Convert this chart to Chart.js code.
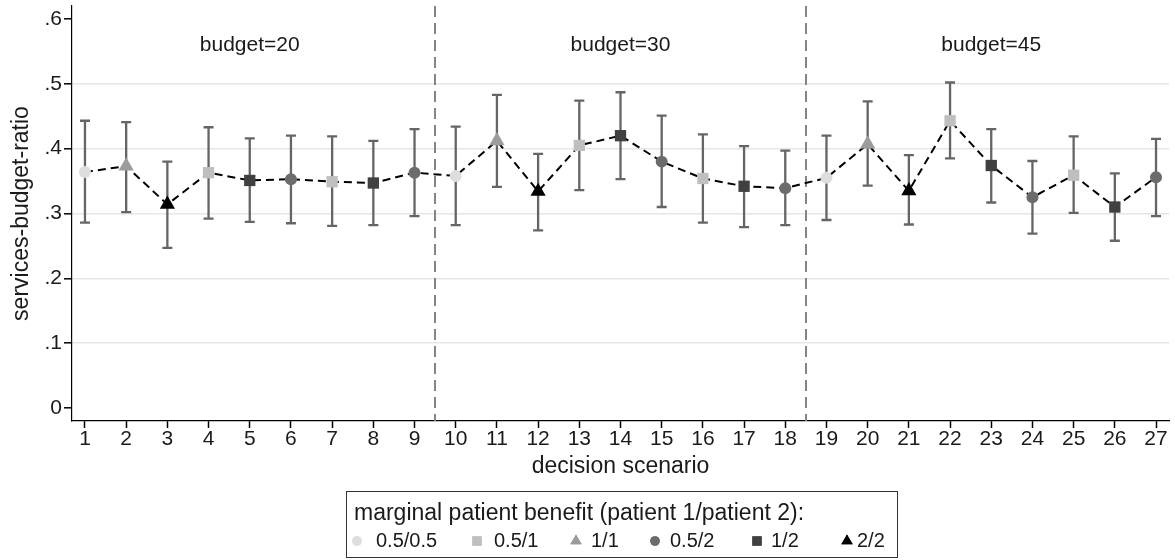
<!DOCTYPE html>
<html>
<head>
<meta charset="utf-8">
<script src="https://cdn.jsdelivr.net/npm/chart.js@4/dist/chart.umd.min.js"></script>
<style>
  html, body { margin: 0; padding: 0; background: #ffffff; }
  #wrap { width: 1175px; height: 560px; }
</style>
</head>
<body>
<div id="wrap"><canvas id="c" width="1175" height="560"></canvas></div>
<script>
// ---- data ----
const scenarios = [1,2,3,4,5,6,7,8,9,10,11,12,13,14,15,16,17,18,19,20,21,22,23,24,25,26,27];

// marginal patient benefit (patient 1/patient 2) of each decision scenario
const benefit = [
  '0.5/0.5','1/1','2/2','0.5/1','1/2','0.5/2','0.5/1','1/2','0.5/2',
  '0.5/0.5','1/1','2/2','0.5/1','1/2','0.5/2','0.5/1','1/2','0.5/2',
  '0.5/0.5','1/1','2/2','0.5/1','1/2','0.5/2','0.5/1','1/2','0.5/2'
];

// mean services-budget-ratio and its confidence interval
const ratioMean = [
  0.364, 0.373, 0.314, 0.363, 0.351, 0.353, 0.349, 0.347, 0.363,
  0.358, 0.412, 0.334, 0.405, 0.420, 0.380, 0.354, 0.342, 0.339,
  0.355, 0.407, 0.335, 0.443, 0.374, 0.325, 0.359, 0.310, 0.356
];
const ratioUpper = [
  0.443, 0.441, 0.380, 0.433, 0.416, 0.420, 0.419, 0.412, 0.430,
  0.434, 0.483, 0.392, 0.474, 0.487, 0.451, 0.422, 0.404, 0.397,
  0.420, 0.473, 0.390, 0.502, 0.430, 0.381, 0.419, 0.362, 0.415
];
const ratioLower = [
  0.286, 0.302, 0.247, 0.292, 0.287, 0.285, 0.281, 0.282, 0.296,
  0.282, 0.341, 0.274, 0.336, 0.353, 0.310, 0.286, 0.279, 0.282,
  0.290, 0.343, 0.283, 0.385, 0.317, 0.269, 0.301, 0.258, 0.296
];

// budget blocks: label, centre scenario, and the boundaries between blocks
const budgetLabels = ['budget=20', 'budget=30', 'budget=45'];
const budgetCentres = [5, 14, 23];
const blockBounds = [9.5, 18.5];

// legend categories
const benefitLevels = ['0.5/0.5', '0.5/1', '1/1', '0.5/2', '1/2', '2/2'];

// axis ticks
const yTickValues = [0, 0.1, 0.2, 0.3, 0.4, 0.5, 0.6];
const yTickLabels = ['0', '.1', '.2', '.3', '.4', '.5', '.6'];

// ---- styling ----
const FONT = "'Liberation Sans', Arial, Helvetica, sans-serif";
const TEXT = '#1a1a1a';
const styleOf = {
  '0.5/0.5': { shape: 'circle',   color: '#dedede', r: 6,   lr: 4.8 },
  '0.5/1':   { shape: 'rect',     color: '#bfbfbf', r: 8,   lr: 6.6 },
  '1/1':     { shape: 'triangle', color: '#9c9c9c', r: 8.8, lr: 6.6 },
  '0.5/2':   { shape: 'circle',   color: '#6c6c6c', r: 6,   lr: 4.8 },
  '1/2':     { shape: 'rect',     color: '#404040', r: 8,   lr: 6.6 },
  '2/2':     { shape: 'triangle', color: '#000000', r: 8.8, lr: 6.6 }
};

Chart.defaults.font.family = FONT;
Chart.defaults.color = TEXT;

// confidence intervals with caps, behind the markers
const errorBarPlugin = {
  id: 'errorBars',
  beforeDatasetsDraw(chart) {
    const { ctx, scales: { x, y } } = chart;
    ctx.save();
    ctx.strokeStyle = '#656565';
    ctx.lineWidth = 2.3;
    const cap = 5;
    scenarios.forEach((s, i) => {
      const px = x.getPixelForValue(s);
      const hi = y.getPixelForValue(ratioUpper[i]);
      const lo = y.getPixelForValue(ratioLower[i]);
      ctx.beginPath();
      ctx.moveTo(px, hi); ctx.lineTo(px, lo);
      ctx.moveTo(px - cap, hi); ctx.lineTo(px + cap, hi);
      ctx.moveTo(px - cap, lo); ctx.lineTo(px + cap, lo);
      ctx.stroke();
    });
    ctx.restore();
  }
};

// dashed separators between budget blocks and the block headings
const blockPlugin = {
  id: 'budgetBlocks',
  beforeDatasetsDraw(chart) {
    const { ctx, chartArea, scales: { x, y } } = chart;
    ctx.save();
    ctx.strokeStyle = '#858585';
    ctx.lineWidth = 2;
    ctx.setLineDash([11, 6]);
    blockBounds.forEach(b => {
      const px = Math.round(x.getPixelForValue(b));
      ctx.beginPath();
      ctx.moveTo(px, chartArea.top);
      ctx.lineTo(px, chartArea.bottom);
      ctx.stroke();
    });
    ctx.setLineDash([]);
    ctx.fillStyle = TEXT;
    ctx.font = '21px ' + FONT;
    ctx.textAlign = 'center';
    ctx.textBaseline = 'middle';
    budgetLabels.forEach((t, i) => {
      ctx.fillText(t, x.getPixelForValue(budgetCentres[i]), y.getPixelForValue(0.56));
    });
    ctx.restore();
  }
};

// boxed legend below the plot
const legendPlugin = {
  id: 'benefitLegend',
  afterDraw(chart) {
    const { ctx } = chart;
    ctx.save();
    ctx.strokeStyle = '#333333';
    ctx.lineWidth = 1;
    ctx.strokeRect(346.5, 491.5, 551, 66);
    ctx.fillStyle = TEXT;
    ctx.font = '23px ' + FONT;
    ctx.textAlign = 'left';
    ctx.textBaseline = 'middle';
    ctx.fillText('marginal patient benefit (patient 1/patient 2):', 354, 514);
    ctx.font = '20px ' + FONT;
    const markerX = [357, 477, 576, 655, 757, 847];
    const textX = [376, 494, 591, 670, 771, 857];
    benefitLevels.forEach((lvl, i) => {
      const st = styleOf[lvl];
      ctx.fillStyle = st.color;
      Chart.helpers.drawPoint(ctx, { pointStyle: st.shape, radius: st.lr, borderWidth: 0 }, markerX[i], 541);
      ctx.fill();
      ctx.fillStyle = TEXT;
      ctx.fillText(lvl, textX[i], 541);
    });
    ctx.restore();
  }
};

const points = scenarios.map((s, i) => ({ x: s, y: ratioMean[i] }));

new Chart(document.getElementById('c'), {
  type: 'line',
  data: {
    datasets: [{
      data: points,
      borderColor: '#000000',
      borderWidth: 2,
      borderDash: [8, 5],
      tension: 0,
      fill: false,
      pointStyle: benefit.map(b => styleOf[b].shape),
      pointRadius: benefit.map(b => styleOf[b].r),
      pointBackgroundColor: benefit.map(b => styleOf[b].color),
      pointBorderColor: benefit.map(b => styleOf[b].color),
      pointBorderWidth: 0
    }]
  },
  options: {
    responsive: false,
    animation: false,
    devicePixelRatio: 1,
    layout: { padding: { top: 5, right: 3, left: 0, bottom: 79 } },
    plugins: { legend: { display: false }, tooltip: { enabled: false } },
    scales: {
      x: {
        type: 'linear',
        min: 0.685,
        max: 27.315,
        afterBuildTicks(scale) { scale.ticks = scenarios.map(v => ({ value: v })); },
        afterFit(scale) { scale.height = 60; scale.paddingLeft = 0; scale.paddingRight = 0; },
        ticks: { font: { size: 21 }, color: TEXT, padding: -1, maxRotation: 0, autoSkip: false,
                 callback: v => String(v) },
        grid: { drawOnChartArea: false, drawTicks: true, tickLength: 7, tickColor: '#000', tickWidth: 1.5 },
        border: { display: true, color: '#000', width: 1.2 },
        title: { display: true, text: 'decision scenario', font: { size: 23 }, color: TEXT,
                 padding: { top: 0, bottom: 1 } }
      },
      y: {
        type: 'linear',
        min: -0.02,
        max: 0.62,
        afterBuildTicks(scale) { scale.ticks = yTickValues.map(v => ({ value: v })); },
        afterFit(scale) { scale.width = 72; scale.paddingTop = 0; scale.paddingBottom = 0; },
        ticks: { font: { size: 21 }, color: TEXT, padding: 2,
                 callback: v => yTickLabels[yTickValues.findIndex(t => Math.abs(t - v) < 1e-9)] },
        grid: {
          color: ctx => (ctx.tick && ctx.tick.value > 0.05 && ctx.tick.value < 0.55) ? '#e6e6e6' : 'rgba(0,0,0,0)',
          lineWidth: 1.6,
          drawTicks: true, tickLength: 8, tickColor: '#000', tickWidth: 1.5
        },
        border: { display: true, color: '#000', width: 1.2 },
        title: { display: true, text: 'services-budget-ratio', font: { size: 23 }, color: TEXT,
                 padding: { top: 8, bottom: 0 } }
      }
    }
  },
  plugins: [errorBarPlugin, blockPlugin, legendPlugin]
});
</script>
</body>
</html>
